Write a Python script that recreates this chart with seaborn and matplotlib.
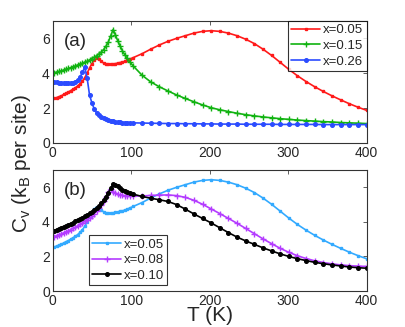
# Specific heat vs temperature, two panels (a) and (b)

import pandas as pd
import matplotlib
matplotlib.use('Agg')
import matplotlib.pyplot as plt
import seaborn as sns

# temperature grid (K), dense below 100 K
T = [2, 5, 8, 11, 14, 17, 20, 23, 26, 29, 32, 35, 38, 41, 44, 47, 50, 53, 56, 59,
     62, 65, 68, 71, 74, 77, 80, 83, 86, 89, 92, 95, 98,
     103, 114, 125, 136, 147, 158, 169, 180, 191, 202, 213, 224, 235, 246, 257, 268,
     279, 290, 301, 312, 323, 334, 345, 356, 367, 378, 389, 400]

cv_005 = [2.55, 2.6, 2.65, 2.7, 2.78, 2.85, 2.92, 3.0, 3.08, 3.17, 3.27, 3.4, 3.55, 3.75,
          4.0, 4.3, 4.55, 4.75, 4.85, 4.8, 4.68, 4.58, 4.52, 4.5, 4.5, 4.52, 4.55, 4.58,
          4.61, 4.64, 4.68, 4.73, 4.8,
          4.9, 5.12, 5.38, 5.62, 5.83, 6.0, 6.15, 6.3, 6.4, 6.44, 6.4, 6.3, 6.15, 5.95,
          5.7, 5.38, 5.02, 4.62, 4.22, 3.85, 3.52, 3.22, 2.95, 2.7, 2.47, 2.25, 2.05, 1.87]

cv_015 = [4.02, 4.06, 4.1, 4.14, 4.18, 4.22, 4.27, 4.32, 4.37, 4.42, 4.47, 4.52, 4.58, 4.63,
          4.69, 4.76, 4.84, 4.92, 5.0, 5.1, 5.22, 5.36, 5.55, 5.8, 6.15, 6.5, 6.2, 5.85,
          5.55, 5.28, 5.05, 4.85, 4.66,
          4.4, 3.88, 3.5, 3.22, 2.98, 2.75, 2.55, 2.36, 2.18, 2.02, 1.9, 1.8, 1.7, 1.62,
          1.55, 1.49, 1.44, 1.39, 1.35, 1.31, 1.28, 1.25, 1.22, 1.2, 1.17, 1.15, 1.13, 1.11]

cv_026 = [3.5, 3.48, 3.46, 3.44, 3.42, 3.41, 3.41, 3.42, 3.45, 3.52, 3.62, 3.78, 4.05, 4.35,
          3.7, 2.75, 2.3, 1.95, 1.72, 1.58, 1.48, 1.42, 1.36, 1.31, 1.27, 1.24, 1.21, 1.19,
          1.18, 1.17, 1.17, 1.16, 1.16,
          1.15, 1.14, 1.13, 1.12, 1.11, 1.11, 1.1, 1.1, 1.09, 1.09, 1.08, 1.08, 1.08, 1.07,
          1.07, 1.07, 1.07, 1.06, 1.06, 1.06, 1.06, 1.06, 1.05, 1.05, 1.05, 1.05, 1.05, 1.05]

cv_008 = [3.15, 3.2, 3.25, 3.3, 3.36, 3.42, 3.48, 3.55, 3.62, 3.69, 3.77, 3.85, 3.94, 4.03,
          4.13, 4.24, 4.35, 4.48, 4.62, 4.78, 4.96, 5.18, 5.45, 5.75, 5.88, 5.75, 5.66, 5.6,
          5.56, 5.53, 5.51, 5.5, 5.5,
          5.5, 5.5, 5.53, 5.55, 5.56, 5.52, 5.42, 5.25, 5.02, 4.75, 4.48, 4.2, 3.92, 3.62,
          3.32, 3.02, 2.74, 2.47, 2.24, 2.04, 1.88, 1.75, 1.65, 1.57, 1.51, 1.47, 1.44, 1.42]

cv_010 = [3.5, 3.55, 3.6, 3.66, 3.72, 3.78, 3.84, 3.9, 3.96, 4.03, 4.1, 4.17, 4.25, 4.33,
          4.41, 4.49, 4.58, 4.68, 4.8, 4.93, 5.08, 5.25, 5.45, 5.7, 5.95, 6.18, 6.15, 6.05,
          5.95, 5.86, 5.79, 5.73, 5.68,
          5.6, 5.47, 5.37, 5.28, 5.18, 5.0, 4.74, 4.46, 4.2, 3.94, 3.66, 3.38, 3.12, 2.9,
          2.7, 2.5, 2.32, 2.15, 2.0, 1.87, 1.76, 1.66, 1.58, 1.51, 1.45, 1.39, 1.35, 1.32]

top_series = [('x=0.05', cv_005, '#ff1a1a', 's', 2),
              ('x=0.15', cv_015, '#11b311', '+', 4),
              ('x=0.26', cv_026, '#2b4cff', 'o', 2.6)]
bottom_series = [('x=0.05', cv_005, '#33aaff', 's', 1.8),
                 ('x=0.08', cv_008, '#b43cff', '+', 4),
                 ('x=0.10', cv_010, '#000000', 'o', 2.6)]

sns.set_style('white')
plt.rcParams['font.family'] = ['Liberation Sans', 'DejaVu Sans']
plt.rcParams['mathtext.fontset'] = 'custom'
plt.rcParams['mathtext.rm'] = 'Liberation Sans'

fig = plt.figure(figsize=(4.05, 3.27), dpi=100)
ax1 = fig.add_axes([0.130, 0.563, 0.775, 0.373])
ax2 = fig.add_axes([0.130, 0.110, 0.775, 0.370])


def draw_panel(ax, series, tag, legend_loc, legend_anchor):
    for name, vals, col, mk, ms in series:
        df = pd.DataFrame({'T': T, 'Cv': vals})
        sns.lineplot(data=df, x='T', y='Cv', ax=ax, color=col, marker=mk,
                     markersize=ms, markeredgecolor=col, markeredgewidth=1,
                     linewidth=1.2, label=name, sort=False, estimator=None)
    ax.set_xlim(0, 400)
    ax.set_ylim(0, 7)
    ax.set_xticks([0, 100, 200, 300, 400])
    ax.set_yticks([0, 2, 4, 6])
    ax.tick_params(direction='in', top=True, right=True, labelsize=10,
                   length=3, width=0.6, color='#444444', pad=2)
    for sp in ax.spines.values():
        sp.set_linewidth(0.8)
        sp.set_color('#333333')
    ax.set_xlabel('')
    ax.set_ylabel('')
    ax.text(0.035, 0.83, tag, transform=ax.transAxes, fontsize=13.5, va='center')
    leg = ax.legend(loc=legend_loc, bbox_to_anchor=legend_anchor, fontsize=9.5,
                    frameon=True, fancybox=False, handlelength=2.2,
                    handletextpad=0.2, borderpad=0.25, labelspacing=0.25,
                    borderaxespad=0)
    leg.get_frame().set_edgecolor('black')
    leg.get_frame().set_linewidth(0.8)


draw_panel(ax1, top_series, '(a)', 'upper right', (1.0, 1.0))
draw_panel(ax2, bottom_series, '(b)', 'lower left', (0.115, 0.05))

ax2.set_xlabel('T (K)', fontsize=15, labelpad=-1)
fig.text(0.052, 0.5, r'C$_\mathrm{v}$ (k$_\mathrm{B}$ per site)', rotation=90,
         fontsize=15, va='center', ha='center')

fig.savefig('out.png', dpi=100)
